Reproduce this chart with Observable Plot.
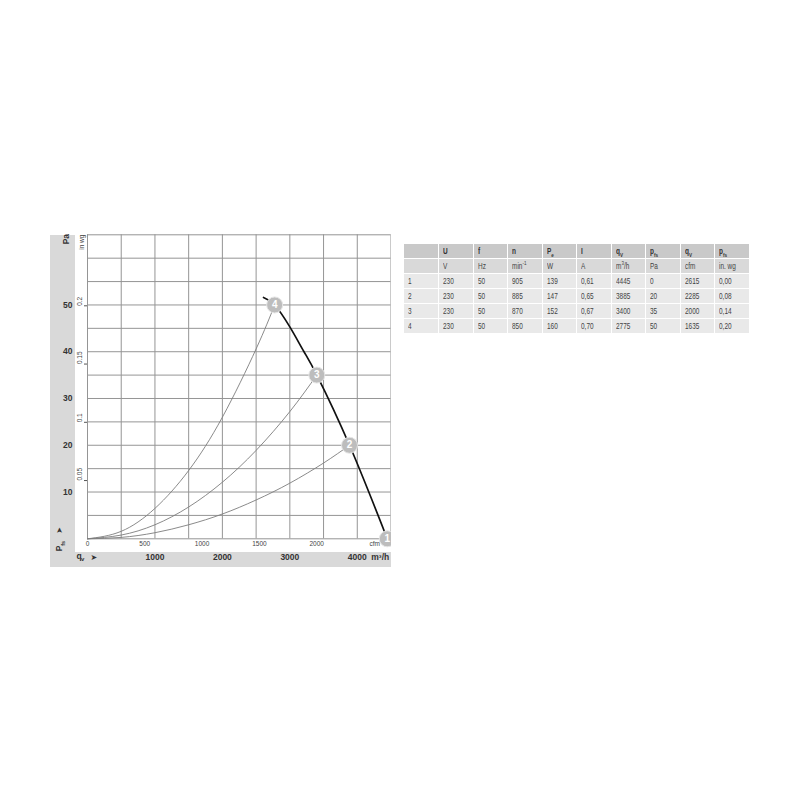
<!DOCTYPE html>
<html><head><meta charset="utf-8">
<script src="https://cdn.jsdelivr.net/npm/d3@7"></script>
<script src="https://cdn.jsdelivr.net/npm/@observablehq/plot@0.6"></script>
<style>
html,body{margin:0;padding:0;background:#fff;width:800px;height:800px;overflow:hidden;font-family:"Liberation Sans",Arial,sans-serif;}
#stripL{position:absolute;left:50px;top:235px;width:25px;height:332px;background:#d9d9d9;}
#stripB{position:absolute;left:50px;top:552px;width:341px;height:15px;background:#d9d9d9;}
#chart{position:absolute;left:40px;top:220px;}
#tbl{position:absolute;left:403px;top:243px;}
table{border-collapse:collapse;font-family:"Liberation Sans",Arial,sans-serif;font-size:8.5px;color:#444;table-layout:fixed;width:347px;}
td{border:1px solid #fff;height:14px;padding:0 0 0 4px;line-height:14px;white-space:nowrap;overflow:hidden;}
td span{display:inline-block;transform:scaleX(0.76);transform-origin:left center;}
tr.h1 td{background:#c9c9c9;font-weight:bold;color:#333;}
tr.h2 td{background:#d9d9d9;}
tr.d td{background:#e9e9e9;}
sub,sup{font-size:6px;line-height:0;}
</style>
</head><body>
<div id="stripL"></div>
<div id="stripB"></div>
<div id="chart"></div>
<div id="tbl"></div>
<script>
// ---- chart data (m³/h, Pa) ----
const FAN_Q = [2610, 2775, 3000, 3210, 3400, 3885, 4445];
const FAN_P = [51.6, 50, 45.3, 40, 35, 20, 0];
const SYS4_Q = [0, 500, 1000, 1500, 2000, 2500, 2775];
const SYS4_P = [0, 1.6, 6.5, 14.6, 26, 40.6, 50];
const SYS3_Q = [0, 500, 1000, 1500, 2000, 2500, 3000, 3400];
const SYS3_P = [0, 0.8, 3.0, 6.8, 12.1, 18.9, 27.2, 35];
const SYS2_Q = [0, 500, 1000, 1500, 2000, 2500, 3000, 3500, 3885];
const SYS2_P = [0, 0.3, 1.3, 3.0, 5.3, 8.3, 11.9, 16.2, 20];
const PT_ID = [1, 2, 3, 4];
const PT_Q = [4445, 3885, 3400, 2775];
const PT_P = [0, 20, 35, 50];
// ---- ticks ----
const GRID_X = [0, 500, 1000, 1500, 2000, 2500, 3000, 3500, 4000, 4500];
const GRID_Y = [0, 5, 10, 15, 20, 25, 30, 35, 40, 45, 50, 55, 60, 65];
const PA_TICKS = [10, 20, 30, 40, 50];
const INWG_TICKS = [0.05, 0.1, 0.15, 0.2];
const INWG_LABELS = ["0.05", "0.1", "0.15", "0.2"];
const CFM_TICKS = [0, 500, 1000, 1500, 2000];
const M3H_TICKS = [1000, 2000, 3000, 4000];
const PA_PER_INWG = 249.09;
const M3H_PER_CFM = 1.699;
// ---- table data ----
const HEAD1 = ["", "U", "f", "n", "P<sub>e</sub>", "I", "q<sub>V</sub>", "p<sub>fs</sub>", "q<sub>V</sub>", "p<sub>fs</sub>"];
const HEAD2 = ["", "V", "Hz", "min<sup>-1</sup>", "W", "A", "m<sup>3</sup>/h", "Pa", "cfm", "in. wg"];
const T_ID = ["1", "2", "3", "4"];
const T_U = ["230", "230", "230", "230"];
const T_F = ["50", "50", "50", "50"];
const T_N = ["905", "885", "870", "850"];
const T_PE = ["139", "147", "152", "160"];
const T_I = ["0,61", "0,65", "0,67", "0,70"];
const T_QV = ["4445", "3885", "3400", "2775"];
const T_PFS = ["0", "20", "35", "50"];
const T_CFM = ["2615", "2285", "2000", "1635"];
const T_INWG = ["0,00", "0,08", "0,14", "0,20"];

const fan = FAN_Q.map((q, i) => ({q, p: FAN_P[i]}));
const sys = [
  ...SYS4_Q.map((q, i) => ({q, p: SYS4_P[i], id: 4})),
  ...SYS3_Q.map((q, i) => ({q, p: SYS3_P[i], id: 3})),
  ...SYS2_Q.map((q, i) => ({q, p: SYS2_P[i], id: 2}))
];
const pts = PT_ID.map((id, i) => ({id, q: PT_Q[i], p: PT_P[i]}));
const inwg = INWG_TICKS.map((v, i) => ({pa: v * PA_PER_INWG, label: INWG_LABELS[i]}));

const FF = "Liberation Sans, Arial, sans-serif";
const chart = Plot.plot({
  width: 351, height: 360,
  marginLeft: 47, marginRight: 0.5, marginTop: 14.3, marginBottom: 41.7,
  style: {background: "transparent", overflow: "hidden", fontFamily: FF},
  x: {domain: [0, 4500], axis: null},
  y: {domain: [0, 65], axis: null},
  marks: [
    Plot.ruleX(GRID_X, {stroke: "#959595", strokeWidth: 1}),
    Plot.ruleY(GRID_Y, {stroke: "#959595", strokeWidth: 1}),
    Plot.line(sys, {x: "q", y: "p", z: "id", stroke: "#7d7d7d", strokeWidth: 0.9, curve: "natural"}),
    Plot.line(fan, {x: "q", y: "p", stroke: "#111", strokeWidth: 1.7, curve: "natural"}),
    // Pa axis
    Plot.text(PA_TICKS, {y: d => d, text: d => String(d), frameAnchor: "left", dx: -24.5, fontWeight: "bold", fontSize: 8.5, fill: "#333"}),
    Plot.text(["Pa"], {frameAnchor: "top-left", dx: -25, dy: 9.5, rotate: -90, fontWeight: "bold", fontSize: 8.5, fill: "#333"}),
    // in wg axis
    Plot.axisY(inwg.map(d => d.pa), {anchor: "left", tickSize: 3, tickFormat: () => "", stroke: "#555"}),
    Plot.text(inwg, {y: "pa", text: "label", frameAnchor: "left", dx: -7.7, rotate: -90, fontSize: 6.5, fill: "#444"}),
    Plot.text(["in wg"], {frameAnchor: "top-left", dx: -7.7, dy: 15, rotate: -90, fontSize: 6.5, fill: "#444"}),
    // Pfs label with arrow
    Plot.text(["➤"], {frameAnchor: "bottom-left", dx: -25.3, dy: -5, rotate: -90, fontSize: 8, fill: "#333", fontFamily: "DejaVu Sans"}),
    Plot.text(["P"], {frameAnchor: "bottom-left", dx: -26, dy: 12.5, rotate: -90, fontSize: 8.5, fontWeight: "bold", fill: "#333"}),
    Plot.text(["fs"], {frameAnchor: "bottom-left", dx: -23, dy: 7, rotate: -90, fontSize: 5.5, fontWeight: "bold", fill: "#333"}),
    // cfm axis
    Plot.text(CFM_TICKS, {x: d => d * M3H_PER_CFM, text: d => String(d), frameAnchor: "bottom", dy: 6.7, fontSize: 6.5, fill: "#444"}),
    Plot.text(["cfm"], {frameAnchor: "bottom-right", dx: -11, dy: 6.7, textAnchor: "end", fontSize: 6.5, fill: "#444"}),
    // m³/h axis
    Plot.text(M3H_TICKS, {x: d => d, text: d => String(d), frameAnchor: "bottom", dy: 21, fontWeight: "bold", fontSize: 8.5, fill: "#333"}),
    Plot.text(["m³/h"], {x: () => 4000, frameAnchor: "bottom", dx: 14, dy: 21, textAnchor: "start", fontWeight: "bold", fontSize: 8.5, fill: "#333"}),
    Plot.text(["q"], {frameAnchor: "bottom-left", dx: -11, dy: 20.5, fontWeight: "bold", fontSize: 8.5, fill: "#333"}),
    Plot.text(["v"], {frameAnchor: "bottom-left", dx: -6.5, dy: 22.5, fontWeight: "bold", fontSize: 6, fill: "#333"}),
    Plot.text(["➤"], {frameAnchor: "bottom-left", dx: 3, dy: 21, fontSize: 8, fill: "#333", fontFamily: "DejaVu Sans"}),
    // operating points
    Plot.dot(pts, {x: "q", y: "p", r: 8, fill: "#bdbdbd", stroke: "#e6e6e6", strokeWidth: 1}),
    Plot.text(pts, {x: "q", y: "p", text: d => String(d.id), fill: "#fff", fontWeight: "bold", fontSize: 10})
  ]
});
document.getElementById("chart").appendChild(chart);

// ---- table ----
const cols = [T_ID, T_U, T_F, T_N, T_PE, T_I, T_QV, T_PFS, T_CFM, T_INWG];
let html = '<table><colgroup><col style="width:35px">' + cols.slice(1).map(() => '<col>').join('') + '</colgroup>';
html += '<tr class="h1">' + HEAD1.map(h => `<td><span>${h}</span></td>`).join('') + '</tr>';
html += '<tr class="h2">' + HEAD2.map(h => `<td><span>${h}</span></td>`).join('') + '</tr>';
T_ID.forEach((_, r) => {
  html += '<tr class="d">' + cols.map(c => `<td><span>${c[r]}</span></td>`).join('') + '</tr>';
});
html += '</table>';
document.getElementById("tbl").innerHTML = html;
</script>
</body></html>
